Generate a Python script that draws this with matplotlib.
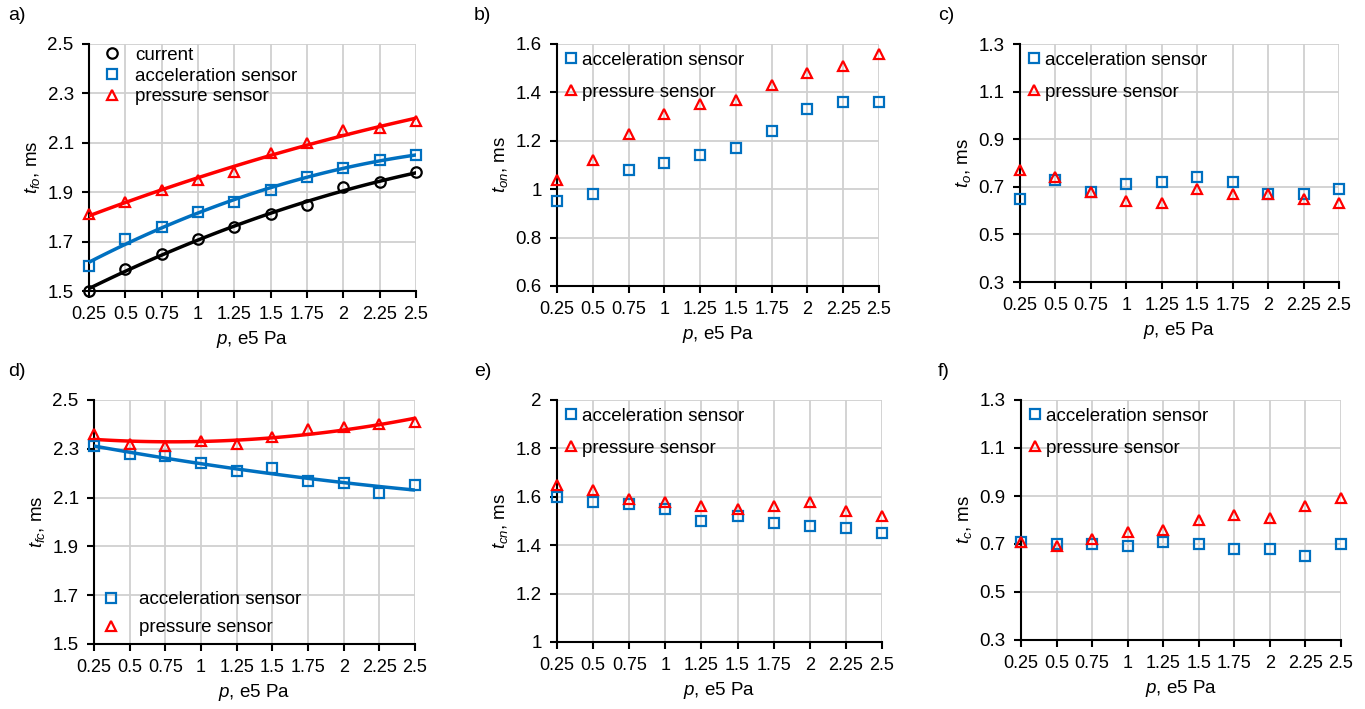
import numpy as np
import matplotlib
matplotlib.use("Agg")
import matplotlib.pyplot as plt
from matplotlib.lines import Line2D

plt.rcParams['font.family'] = ['Liberation Sans', 'DejaVu Sans']
plt.rcParams['mathtext.fontset'] = 'custom'
plt.rcParams['mathtext.it'] = 'Liberation Sans:italic'
plt.rcParams['mathtext.rm'] = 'Liberation Sans'

# pressure, e5 Pa
p = [0.25, 0.5, 0.75, 1, 1.25, 1.5, 1.75, 2, 2.25, 2.5]
p_labels = ['0.25', '0.5', '0.75', '1', '1.25', '1.5', '1.75', '2', '2.25', '2.5']

# a) t_fo
a_current = [1.50, 1.59, 1.65, 1.71, 1.76, 1.81, 1.85, 1.92, 1.94, 1.98]
a_accel = [1.60, 1.71, 1.76, 1.82, 1.86, 1.91, 1.96, 2.00, 2.03, 2.05]
a_press = [1.81, 1.86, 1.91, 1.95, 1.98, 2.06, 2.10, 2.15, 2.16, 2.19]
# b) t_on
b_accel = [0.95, 0.98, 1.08, 1.11, 1.14, 1.17, 1.24, 1.33, 1.36, 1.36]
b_press = [1.04, 1.12, 1.23, 1.31, 1.35, 1.37, 1.43, 1.48, 1.51, 1.56]
# c) t_o
c_accel = [0.65, 0.73, 0.68, 0.71, 0.72, 0.74, 0.72, 0.67, 0.67, 0.69]
c_press = [0.77, 0.74, 0.68, 0.64, 0.63, 0.69, 0.67, 0.67, 0.65, 0.63]
# d) t_fc
d_accel = [2.31, 2.28, 2.27, 2.24, 2.21, 2.22, 2.17, 2.16, 2.12, 2.15]
d_press = [2.36, 2.32, 2.31, 2.33, 2.32, 2.35, 2.38, 2.39, 2.40, 2.41]
# e) t_cn
e_accel = [1.60, 1.58, 1.57, 1.55, 1.50, 1.52, 1.49, 1.48, 1.47, 1.45]
e_press = [1.65, 1.63, 1.59, 1.58, 1.56, 1.55, 1.56, 1.58, 1.54, 1.52]
# f) t_c
f_accel = [0.71, 0.70, 0.70, 0.69, 0.71, 0.70, 0.68, 0.68, 0.65, 0.70]
f_press = [0.71, 0.69, 0.72, 0.75, 0.76, 0.80, 0.82, 0.81, 0.86, 0.89]

BLUE = '#0070C0'
RED = '#FF0000'
W, H = 1365, 709
FS = 13.5

fig = plt.figure(figsize=(W / 100, H / 100), dpi=100)


def make_ax(l, t, r, b):
    return fig.add_axes([l / W, 1 - b / H, (r - l) / W, (b - t) / H])


def style(ax, ylim, yticks, ylab, letter, lx, ly):
    ax.set_xlim(0.25, 2.5)
    ax.set_ylim(*ylim)
    ax.set_xticks(p)
    ax.set_xticklabels(p_labels)
    ax.set_yticks(yticks)
    ax.set_yticklabels([('%g' % v) for v in yticks])
    ax.grid(True, color='#D0D0D0', lw=1.3)
    ax.set_axisbelow(True)
    for s in ['top', 'right']:
        ax.spines[s].set_visible(False)
    for s in ['left', 'bottom']:
        ax.spines[s].set_linewidth(1.5)
    ax.tick_params(direction='out', length=5, width=1.5, labelsize=FS, pad=6)
    ax.tick_params(axis='x', labelsize=FS - 0.5)
    ax.set_ylabel(ylab, fontsize=FS, labelpad=4)
    ax.set_xlabel(r'$p$, e5 Pa', fontsize=FS, labelpad=4)
    fig.text(lx / W, 1 - ly / H, letter, fontsize=FS + 0.5, va='center', ha='left')


def pts(ax, y, marker, color):
    ax.plot(p, y, ls='none', marker=marker, ms=7.5, mfc='none', mec=color,
            mew=1.6, clip_on=False, zorder=4)


def trend(ax, y, color):
    coef = np.polyfit(p, y, 2)
    xs = np.linspace(p[0], p[-1], 100)
    ax.plot(xs, np.polyval(coef, xs), color=color, lw=2.5, zorder=3)


def handle(marker, color):
    return Line2D([], [], ls='none', marker=marker, ms=7.5, mfc='none', mec=color, mew=1.6)


# a)
ax = make_ax(89, 44, 416, 291)
trend(ax, a_current, 'black')
trend(ax, a_accel, BLUE)
trend(ax, a_press, RED)
pts(ax, a_current, 'o', 'black')
pts(ax, a_accel, 's', BLUE)
pts(ax, a_press, '^', RED)
h = [handle('o', 'black'), handle('s', BLUE), handle('^', RED)]
ax.legend(h, ['current', 'acceleration sensor', 'pressure sensor'], loc='upper left',
          frameon=False, fontsize=FS, handletextpad=0.7, labelspacing=0.2,
          borderaxespad=0.0, bbox_to_anchor=(0.02, 1.02), handlelength=1.0)
style(ax, (1.5, 2.5), [1.5, 1.7, 1.9, 2.1, 2.3, 2.5], r'$t_{fo}$, ms', 'a)', 8, 15)


def two_legend(ax, loc='upper left', anchor=(-0.01, 1.0), tp=0.1, ls=0.8):
    h = [handle('s', BLUE), handle('^', RED)]
    ax.legend(h, ['acceleration sensor', 'pressure sensor'], loc=loc, frameon=False,
              fontsize=FS, handletextpad=tp, labelspacing=ls, borderaxespad=0.0,
              bbox_to_anchor=anchor, handlelength=1.0)


# b)
ax = make_ax(557, 44, 879, 286)
pts(ax, b_accel, 's', BLUE)
pts(ax, b_press, '^', RED)
two_legend(ax)
style(ax, (0.6, 1.6), [0.6, 0.8, 1, 1.2, 1.4, 1.6], r'$t_{on}$, ms', 'b)', 474, 15)

# c)
ax = make_ax(1020, 44, 1339, 282)
pts(ax, c_accel, 's', BLUE)
pts(ax, c_press, '^', RED)
two_legend(ax)
style(ax, (0.3, 1.3), [0.3, 0.5, 0.7, 0.9, 1.1, 1.3], r'$t_{o}$, ms', 'c)', 938, 15)

# d)
ax = make_ax(94, 400, 415, 644)
trend(ax, d_accel, BLUE)
trend(ax, d_press, RED)
pts(ax, d_accel, 's', BLUE)
pts(ax, d_press, '^', RED)
two_legend(ax, loc='lower left', anchor=(0.0, 0.0), tp=1.0, ls=0.6)
style(ax, (1.5, 2.5), [1.5, 1.7, 1.9, 2.1, 2.3, 2.5], r'$t_{fc}$, ms', 'd)', 8, 372)

# e)
ax = make_ax(557, 400, 882, 642)
pts(ax, e_accel, 's', BLUE)
pts(ax, e_press, '^', RED)
two_legend(ax)
style(ax, (1.0, 2.0), [1, 1.2, 1.4, 1.6, 1.8, 2], r'$t_{cn}$, ms', 'e)', 474, 372)

# f)
ax = make_ax(1021, 400, 1341, 640)
pts(ax, f_accel, 's', BLUE)
pts(ax, f_press, '^', RED)
two_legend(ax)
style(ax, (0.3, 1.3), [0.3, 0.5, 0.7, 0.9, 1.1, 1.3], r'$t_{c}$, ms', 'f)', 938, 372)

fig.savefig('out.png', dpi=100)
